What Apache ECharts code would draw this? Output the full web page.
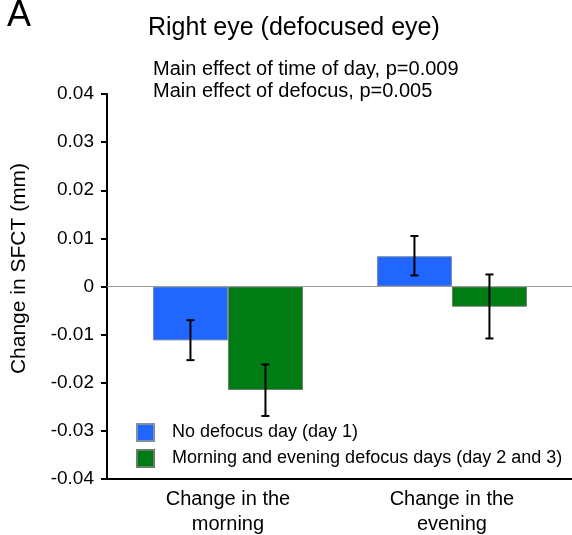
<!DOCTYPE html>
<html>
<head>
<meta charset="utf-8">
<script src="https://cdn.jsdelivr.net/npm/echarts@6/dist/echarts.min.js"></script>
<style>
  html, body { margin: 0; padding: 0; background: #fff; }
  #chart { width: 572px; height: 535px; }
</style>
</head>
<body>
<div id="chart"></div>
<script>
// Change in subfoveal choroidal thickness, right (defocused) eye
const categories = ['Change in the\nmorning', 'Change in the\nevening'];
const seriesNames = ['No defocus day (day 1)', 'Morning and evening defocus days (day 2 and 3)'];

// Mean change (mm)
const noDefocusMean = [-0.0112, 0.0063];
const defocusMean = [-0.0215, -0.0042];

// Error bar ends (mm): [upper, lower]
const noDefocusErr = [[-0.0070, -0.0153], [0.0105, 0.0023]];
const defocusErr = [[-0.0162, -0.0269], [0.0025, -0.0108]];

const BLUE = '#2166ff';
const GREEN = '#017b13';
const BAR_W = 75;
const FONT = 'Liberation Sans, Arial, sans-serif';

function errorSeries(errs, shift) {
  return {
    type: 'custom',
    silent: true,
    z: 5,
    encode: { x: 0, y: [1, 2] },
    data: errs.map((e, i) => [i, e[0], e[1]]),
    renderItem: function (params, api) {
      const x = api.value(0);
      const top = api.coord([x, api.value(1)]);
      const bot = api.coord([x, api.value(2)]);
      const cx = top[0] + shift;
      const cap = 4;
      const style = { stroke: '#000', lineWidth: 2 };
      return {
        type: 'group',
        children: [
          { type: 'line', shape: { x1: cx, y1: top[1], x2: cx, y2: bot[1] }, style: style },
          { type: 'line', shape: { x1: cx - cap, y1: top[1], x2: cx + cap, y2: top[1] }, style: style },
          { type: 'line', shape: { x1: cx - cap, y1: bot[1], x2: cx + cap, y2: bot[1] }, style: style }
        ]
      };
    }
  };
}

const chart = echarts.init(document.getElementById('chart'), null, { renderer: 'canvas' });

chart.setOption({
  animation: false,
  backgroundColor: '#fff',
  textStyle: { fontFamily: FONT, color: '#000' },
  title: [
    { text: 'A', left: 2, top: -7, textStyle: { fontSize: 36, fontWeight: 'normal', color: '#000', fontFamily: FONT } },
    { text: 'Right eye (defocused eye)', left: 148, top: 16, padding: 0,
      textStyle: { fontSize: 25, fontWeight: 'normal', color: '#000', fontFamily: FONT } },
    { text: 'Main effect of time of day, p=0.009\nMain effect of defocus, p=0.005', left: 153, top: 58, padding: 0,
      textStyle: { fontSize: 20, lineHeight: 22, fontWeight: 'normal', color: '#000', fontFamily: FONT } }
  ],
  legend: {
    orient: 'vertical',
    left: 136,
    top: 423,
    padding: 0,
    itemWidth: 17,
    itemHeight: 17,
    itemGap: 7,
    icon: 'rect',
    data: seriesNames,
    textStyle: { fontSize: 18, color: '#000', fontFamily: FONT, padding: [0, 0, 0, 13] }
  },
  grid: { left: 107, right: 0, top: 94, bottom: 56, outerBoundsMode: 'none', containLabel: false },
  xAxis: {
    type: 'value',
    min: -0.54,
    max: 1.536,
    splitLine: { show: false },
    axisLine: { show: true, onZero: false, lineStyle: { color: '#000', width: 2 } },
    axisTick: { show: false },
    axisLabel: {
      customValues: [0, 1],
      formatter: v => categories[Math.round(v)] || '',
      fontSize: 20,
      lineHeight: 25,
      margin: 8,
      color: '#000',
      fontFamily: FONT
    }
  },
  yAxis: {
    type: 'value',
    min: -0.04,
    max: 0.04,
    interval: 0.01,
    name: 'Change in SFCT (mm)',
    nameLocation: 'middle',
    nameGap: 77,
    nameTextStyle: { fontSize: 21, color: '#000', fontFamily: FONT, padding: [0, 0, 0, 36] },
    splitLine: { show: false },
    axisLine: { show: true, onZero: false, lineStyle: { color: '#000', width: 2 } },
    axisTick: { show: true, length: 6, lineStyle: { color: '#000', width: 2 } },
    axisLabel: {
      fontSize: 19,
      margin: 13,
      color: '#000',
      fontFamily: FONT,
      formatter: v => (Math.abs(v) < 1e-9 ? '0' : v.toFixed(2))
    }
  },
  series: [
    {
      name: seriesNames[0],
      type: 'bar',
      barWidth: BAR_W,
      barGap: '0%',
      itemStyle: { color: BLUE, borderColor: '#7f8fa8', borderWidth: 1 },
      data: noDefocusMean.map((v, i) => [i, v]),
      markLine: {
        silent: true,
        symbol: 'none',
        label: { show: false },
        lineStyle: { color: '#9a9a9a', width: 1, type: 'solid' },
        data: [{ yAxis: 0 }]
      }
    },
    {
      name: seriesNames[1],
      type: 'bar',
      barWidth: BAR_W,
      barGap: '0%',
      itemStyle: { color: GREEN, borderColor: '#6a7f6a', borderWidth: 1 },
      data: defocusMean.map((v, i) => [i, v])
    },
    errorSeries(noDefocusErr, -BAR_W / 2),
    errorSeries(defocusErr, BAR_W / 2)
  ]
});
</script>
</body>
</html>
